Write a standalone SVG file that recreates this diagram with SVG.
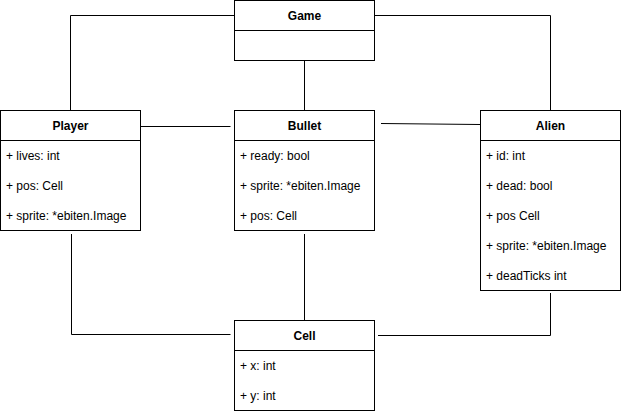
<svg xmlns="http://www.w3.org/2000/svg" width="621" height="411" viewBox="0 0 621 411">
<style>
.box{fill:#fff;stroke:#000;stroke-width:1}
.sep{stroke:#000;stroke-width:1}
.h{font-family:"Liberation Sans",Arial,sans-serif;font-size:12px;font-weight:bold;text-anchor:middle;fill:#000}
.a{font-family:"Liberation Sans",Arial,sans-serif;font-size:12px;fill:#000}
.c{fill:none;stroke:#000;stroke-width:1}
</style>
<rect width="621" height="411" fill="#fff"/>
<g id="connectors">
<polyline class="c" points="234,15.5 70.5,15.5 70.5,110"/>
<polyline class="c" points="375,15.5 550.5,15.5 550.5,110"/>
<line class="c" x1="304.5" y1="61" x2="304.5" y2="110"/>
<line class="c" x1="141" y1="126.5" x2="230.5" y2="126.5"/>
<line class="c" x1="381" y1="123.5" x2="480" y2="124.5"/>
<polyline class="c" points="71.5,234 71.5,334.5 230.5,334.5"/>
<line class="c" x1="304.5" y1="234" x2="304.5" y2="320"/>
<polyline class="c" points="378,335.5 550.5,335.5 550.5,293"/>
</g>
<g id="Game">
<rect class="box" x="234.5" y="0.5" width="140" height="60"/>
<line class="sep" x1="234.5" y1="30.5" x2="374.5" y2="30.5"/>
<text class="h" x="304.5" y="20">Game</text>
</g>
<g id="Player">
<rect class="box" x="0.5" y="110.5" width="140" height="120"/>
<line class="sep" x1="0.5" y1="140.5" x2="140.5" y2="140.5"/>
<text class="h" x="70.5" y="130">Player</text>
<text class="a" x="6" y="160">+ lives: int</text>
<text class="a" x="6" y="190">+ pos: Cell</text>
<text class="a" x="6" y="220">+ sprite: *ebiten.Image</text>
</g>
<g id="Bullet">
<rect class="box" x="234.5" y="110.5" width="140" height="120"/>
<line class="sep" x1="234.5" y1="140.5" x2="374.5" y2="140.5"/>
<text class="h" x="304.5" y="130">Bullet</text>
<text class="a" x="240" y="160">+ ready: bool</text>
<text class="a" x="240" y="190">+ sprite: *ebiten.Image</text>
<text class="a" x="240" y="220">+ pos: Cell</text>
</g>
<g id="Alien">
<rect class="box" x="480.5" y="110.5" width="140" height="180"/>
<line class="sep" x1="480.5" y1="140.5" x2="620.5" y2="140.5"/>
<text class="h" x="550.5" y="130">Alien</text>
<text class="a" x="486" y="160">+ id: int</text>
<text class="a" x="486" y="190">+ dead: bool</text>
<text class="a" x="486" y="220">+ pos Cell</text>
<text class="a" x="486" y="250">+ sprite: *ebiten.Image</text>
<text class="a" x="486" y="280">+ deadTicks int</text>
</g>
<g id="Cell">
<rect class="box" x="234.5" y="320.5" width="140" height="90"/>
<line class="sep" x1="234.5" y1="350.5" x2="374.5" y2="350.5"/>
<text class="h" x="304.5" y="340">Cell</text>
<text class="a" x="240" y="370">+ x: int</text>
<text class="a" x="240" y="400">+ y: int</text>
</g>
</svg>
